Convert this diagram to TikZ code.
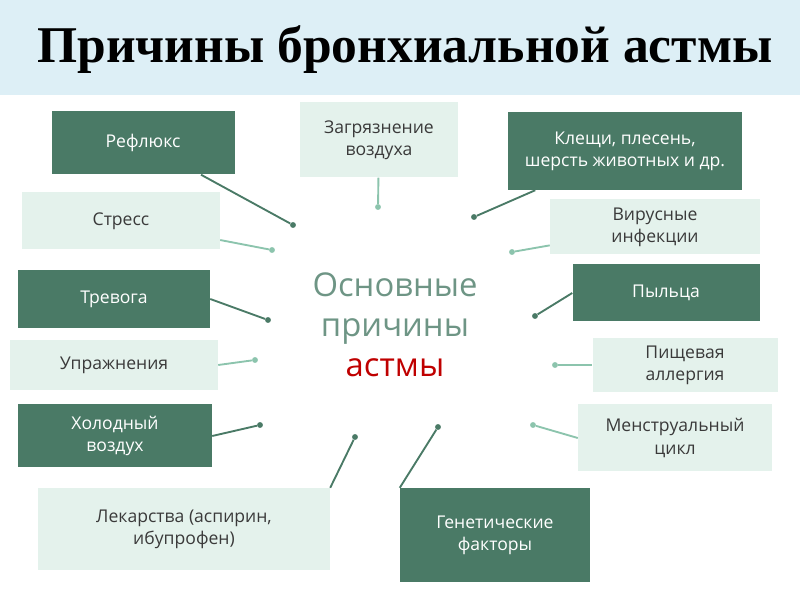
\documentclass[tikz,border=0pt]{standalone}
\usepackage{fontspec}
\setmainfont{Liberation Serif}
\newfontfamily\boxfont{Open Sans}
\usetikzlibrary{positioning}
\definecolor{darkgreen}{HTML}{4A7A66}
\definecolor{lightgreen}{HTML}{E4F2EC}
\definecolor{palegreen}{HTML}{8CC4AD}
\definecolor{titleband}{HTML}{DDEFF6}
\definecolor{boxtext}{HTML}{3A3A3A}
\tikzset{
  darkbox/.style={fill=darkgreen,text=white,font=\boxfont\fontsize{15}{19}\selectfont,align=center,inner sep=0pt},
  lightbox/.style={fill=lightgreen,text=boxtext,font=\boxfont\fontsize{15}{19}\selectfont,align=center,inner sep=0pt},
  darkdot/.style={circle,fill=darkgreen,inner sep=0pt,minimum size=5pt},
  lightdot/.style={circle,fill=palegreen,inner sep=0pt,minimum size=5pt},
  darkwire/.style={draw=darkgreen,line width=1.6pt},
  lightwire/.style={draw=palegreen,line width=1.6pt}
}
\begin{document}
\begin{tikzpicture}[x=0.03cm,y=-0.03cm]
\useasboundingbox (0,0) rectangle (800,600);
\fill[titleband] (0,0) rectangle (800,95);
% title
\node[font=\bfseries\fontsize{44}{50}\selectfont] (title) at (405,50) {Причины бронхиальной астмы};
% centre
\node[font=\boxfont\fontsize{28}{34}\selectfont,text=darkgreen!80,align=center] (centre) at (395,325)
  {Основные\\причины\\\textcolor{red!75!black}{астмы}};
% boxes
\node[darkbox,minimum width=183*0.03cm,minimum height=63*0.03cm] (reflux) at (143,143) {Рефлюкс};
\node[lightbox,minimum width=158*0.03cm,minimum height=75*0.03cm] (air) at (379,140) {Загрязнение\\воздуха};
\node[darkbox,minimum width=234*0.03cm,minimum height=78*0.03cm] (mites) at (625,151) {Клещи, плесень,\\шерсть животных и др.};
\node[lightbox,minimum width=198*0.03cm,minimum height=57*0.03cm] (stress) at (121,221) {Стресс};
\node[lightbox,minimum width=210*0.03cm,minimum height=55*0.03cm] (virus) at (655,227) {Вирусные\\инфекции};
\node[darkbox,minimum width=192*0.03cm,minimum height=58*0.03cm] (anxiety) at (114,299) {Тревога};
\node[darkbox,minimum width=187*0.03cm,minimum height=57*0.03cm] (pollen) at (666,293) {Пыльца};
\node[lightbox,minimum width=208*0.03cm,minimum height=50*0.03cm] (exercise) at (114,365) {Упражнения};
\node[lightbox,minimum width=185*0.03cm,minimum height=54*0.03cm] (food) at (685,365) {Пищевая\\аллергия};
\node[darkbox,minimum width=194*0.03cm,minimum height=63*0.03cm] (cold) at (115,436) {Холодный\\воздух};
\node[lightbox,minimum width=194*0.03cm,minimum height=67*0.03cm] (cycle) at (675,438) {Менструальный\\цикл};
\node[lightbox,minimum width=292*0.03cm,minimum height=82*0.03cm] (drugs) at (184,529) {Лекарства (аспирин,\\ибупрофен)};
\node[darkbox,minimum width=190*0.03cm,minimum height=94*0.03cm] (genes) at (495,535) {Генетические\\факторы};
% dots
\node[darkdot] (dreflux) at (293,225) {};
\node[lightdot] (dair) at (378,207) {};
\node[darkdot] (dmites) at (474,217) {};
\node[lightdot] (dstress) at (272,250) {};
\node[lightdot] (dvirus) at (512,252) {};
\node[darkdot] (danxiety) at (268,320) {};
\node[darkdot] (dpollen) at (535,316) {};
\node[lightdot] (dexercise) at (255,360) {};
\node[lightdot] (dfood) at (555,365) {};
\node[darkdot] (dcold) at (260,425) {};
\node[lightdot] (dcycle) at (533,425) {};
\node[darkdot] (ddrugs) at (355,437) {};
\node[darkdot] (dgenes) at (438,427) {};
% connectors
\draw[darkwire] (dreflux) -- (reflux);
\draw[lightwire] (dair) -- (air);
\draw[darkwire] (dmites) -- (mites);
\draw[lightwire] (dstress) -- (stress);
\draw[lightwire] (dvirus) -- (virus);
\draw[darkwire] (danxiety) -- (anxiety.east);
\draw[darkwire] (dpollen) -- (pollen.west);
\draw[lightwire] (dexercise) -- (exercise.east);
\draw[lightwire] (dfood) -- (food.west);
\draw[darkwire] (dcold) -- (cold.east);
\draw[lightwire] (dcycle) -- (cycle.west);
\draw[darkwire] (ddrugs) -- (drugs.north east);
\draw[darkwire] (dgenes) -- (genes.north west);
\end{tikzpicture}
\end{document}
